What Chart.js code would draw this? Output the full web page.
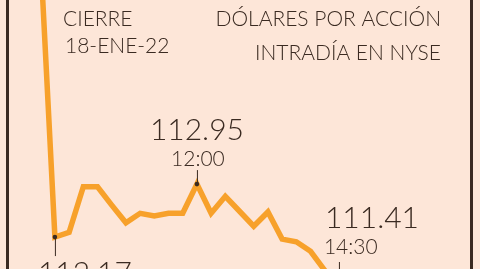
<!DOCTYPE html>
<html>
<head>
<meta charset="utf-8">
<script src="https://cdn.jsdelivr.net/npm/chart.js@4"></script>
<style>
  html, body { margin: 0; padding: 0; background: #fde6d8; overflow: hidden; }
  #wrap { width: 480px; height: 269px; position: relative; }
</style>
</head>
<body>
<div id="wrap"><canvas id="c" width="480" height="269"></canvas></div>
<script>
// Data
const times = ["09:15","09:30","09:45","10:00","10:15","10:30","10:45","11:00","11:15","11:30","11:45",
               "12:00","12:15","12:30","12:45","13:00","13:15","13:30","13:45","14:00","14:15","14:30"];
const prices = [116.25,112.17,112.24,112.91,112.91,112.64,112.38,112.52,112.48,112.52,112.52,
                112.95,112.52,112.77,112.55,112.33,112.54,112.14,112.10,111.96,111.68,111.41];
const titleLines = ["CIERRE", "18-ENE-22"];
const unitLines = ["DÓLARES POR ACCIÓN", "INTRADÍA EN NYSE"];
const callouts = [
  { time: "09:30", value: "112.17", label: null },
  { time: "12:00", value: "112.95", label: "12:00" },
  { time: "14:30", value: "111.41", label: "14:30" }
];

function toMin(t) { const p = t.split(":"); return (+p[0]) * 60 + (+p[1]); }
const points = times.map((t, i) => ({ x: toMin(t), y: prices[i] }));

const INK = "#3a2a21";
const FONT = "Lato, 'Open Sans', sans-serif";

const deco = {
  id: "deco",
  beforeDraw(chart) {
    const ctx = chart.ctx;
    ctx.save();
    ctx.fillStyle = "#fde6d8";
    ctx.fillRect(0, 0, chart.width, chart.height);
    ctx.restore();
  },
  afterDatasetsDraw(chart) {
    const ctx = chart.ctx, xs = chart.scales.x, ys = chart.scales.y;
    ctx.save();
    // frame lines
    ctx.fillStyle = INK;
    ctx.fillRect(6, 0, 3, chart.height);
    ctx.fillRect(470, 0, 3, chart.height);

    ctx.fillStyle = INK;
    ctx.textBaseline = "alphabetic";
    // title
    ctx.font = "300 21px " + FONT;
    ctx.textAlign = "left";
    ctx.fillText(titleLines[0], 63, 26);
    ctx.fillText(titleLines[1], 65, 53);
    ctx.textAlign = "right";
    ctx.fillText(unitLines[0], 441, 26);
    ctx.fillText(unitLines[1], 441, 60);

    // callouts
    const idx = t => times.indexOf(t);
    const p0 = points[idx(callouts[0].time)];
    const p1 = points[idx(callouts[1].time)];
    const p2 = points[idx(callouts[2].time)];
    const x0 = xs.getPixelForValue(p0.x), y0 = ys.getPixelForValue(p0.y);
    const x1 = xs.getPixelForValue(p1.x), y1 = ys.getPixelForValue(p1.y);
    const x2 = xs.getPixelForValue(p2.x);

    ctx.strokeStyle = INK;
    ctx.lineWidth = 1;
    ctx.beginPath();
    ctx.moveTo(x0 + 0.5, y0); ctx.lineTo(x0 + 0.5, y0 + 19);
    ctx.moveTo(x1 + 0.5, y1); ctx.lineTo(x1 + 0.5, y1 - 14);
    ctx.moveTo(x2 + 0.5, 262); ctx.lineTo(x2 + 0.5, chart.height);
    ctx.stroke();

    ctx.beginPath(); ctx.arc(x0, y0, 2.3, 0, Math.PI * 2); ctx.fill();
    ctx.beginPath(); ctx.arc(x1, y1, 2.3, 0, Math.PI * 2); ctx.fill();

    ctx.font = "300 30px " + FONT;
    ctx.textAlign = "center";
    ctx.fillText(callouts[1].value, x1, 140);
    ctx.font = "300 21px " + FONT;
    ctx.fillText(callouts[1].label, x1 + 1, 166);

    ctx.font = "300 30px " + FONT;
    ctx.textAlign = "left";
    ctx.fillText(callouts[0].value, x0 - 17, 283);
    ctx.fillText(callouts[2].value, x2 - 14, 228);
    ctx.font = "300 21px " + FONT;
    ctx.fillText(callouts[2].label, x2 - 15, 254);
    ctx.restore();
  }
};

new Chart(document.getElementById("c"), {
  type: "line",
  data: {
    datasets: [{
      data: points,
      borderColor: "#f7a12b",
      borderWidth: 5.5,
      pointRadius: 0,
      tension: 0,
      fill: false
    }]
  },
  options: {
    responsive: false,
    devicePixelRatio: 1,
    animation: false,
    layout: { padding: 0 },
    plugins: { legend: { display: false }, tooltip: { enabled: false } },
    scales: {
      x: { type: "linear", min: 512, max: 1019, display: false },
      y: { min: 111.70, max: 115.66, display: false }
    }
  },
  plugins: [deco]
});
</script>
</body>
</html>
